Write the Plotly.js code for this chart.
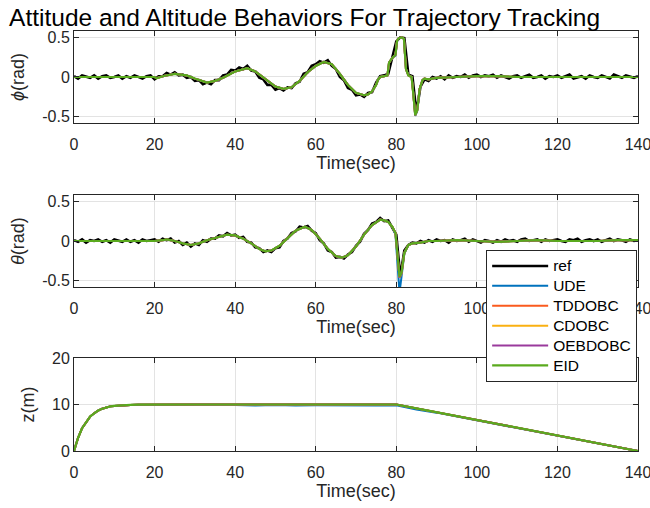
<!DOCTYPE html>
<html>
<head>
<meta charset="utf-8">
<script src="https://cdn.plot.ly/plotly-3.0.1.min.js"></script>
<style>html,body{margin:0;padding:0;background:#fff;}#chart{width:650px;height:508px;}</style>
</head>
<body>
<div id="chart"></div>
<script>
// ---------- data ----------
const seriesNames = ['ref', 'UDE', 'TDDOBC', 'CDOBC', 'OEBDOBC', 'EID'];
const seriesColors = ['#000000', '#0072BD', '#FA5A1E', '#FAB012', '#9A3A9C', '#5AAA1E'];

// reference signal, sampled every second (0..140 s)
const tRef = [0,1,2,3,4,5,6,7,8,9,10,11,12,13,14,15,16,17,18,19,20,21,22,23,24,25,26,27,28,29,30,31,32,33,34,35,36,37,38,39,40,41,42,43,44,45,46,47,48,49,50,51,52,53,54,55,56,57,58,59,60,61,62,63,64,65,66,67,68,69,70,71,72,73,74,75,76,77,78,79,80,81,82,83,84,85,86,87,88,89,90,91,92,93,94,95,96,97,98,99,100,101,102,103,104,105,106,107,108,109,110,111,112,113,114,115,116,117,118,119,120,121,122,123,124,125,126,127,128,129,130,131,132,133,134,135,136,137,138,139,140];
const phiRef = [0.01,-0.02,0.02,0.0,-0.01,0.02,-0.02,0.01,0.02,-0.01,0.0,0.02,-0.02,0.01,-0.01,0.02,0.0,-0.02,0.01,0.02,
  -0.03,0.01,0.01,0.05,0.03,0.06,0.02,0.03,-0.01,0.0,-0.05,-0.04,-0.09,-0.07,-0.09,-0.04,-0.04,0.02,0.03,0.09,
  0.08,0.12,0.1,0.14,0.08,0.07,-0.01,-0.03,-0.1,-0.1,-0.16,-0.14,-0.17,-0.13,-0.14,-0.08,-0.06,0.04,0.06,0.14,
  0.16,0.2,0.18,0.21,0.14,0.1,0.0,-0.04,-0.14,-0.16,-0.23,-0.22,-0.25,-0.2,-0.19,-0.07,0.01,0.02,0.04,0.26,
  0.45,0.5,0.49,0.03,0.01,-0.45,-0.12,-0.03,-0.05,0.0,-0.02,0.01,-0.03,0.02,-0.01,0.01,0.0,0.03,-0.01,0.02,
  0.03,0.0,0.02,0.01,0.03,-0.01,0.02,0.0,-0.02,0.01,0.02,-0.01,0.01,0.03,-0.01,0.0,0.02,-0.02,0.01,0.0,
  0.02,-0.01,0.01,0.03,-0.02,0.0,0.01,-0.02,0.02,0.0,-0.01,0.02,0.0,-0.02,0.03,0.01,-0.01,0.02,0.0,-0.01,0.01];
const thetaRef = [0.01,-0.01,0.02,-0.02,0.01,0.0,0.02,-0.01,0.01,-0.02,0.02,0.0,-0.01,0.02,-0.01,0.01,-0.02,0.02,0.0,0.01,
  0.02,-0.01,0.03,0.01,0.03,-0.02,0.0,-0.05,-0.02,-0.07,-0.03,-0.05,0.01,-0.01,0.03,0.03,0.07,0.06,0.1,0.07,
  0.08,0.04,0.05,-0.01,-0.02,-0.08,-0.09,-0.14,-0.12,-0.14,-0.09,-0.08,0.0,0.03,0.1,0.12,0.18,0.17,0.19,0.13,
  0.1,0.01,-0.03,-0.12,-0.14,-0.21,-0.2,-0.22,-0.17,-0.14,-0.06,-0.01,0.09,0.14,0.22,0.24,0.29,0.25,0.26,0.17,
  0.08,-0.45,-0.12,-0.05,-0.02,-0.03,0.0,-0.02,0.01,-0.01,0.02,0.0,0.01,-0.02,0.02,0.0,0.01,0.03,-0.01,0.02,
  0.0,-0.02,0.01,0.0,-0.02,0.01,-0.01,0.02,0.0,0.01,-0.01,0.02,0.03,0.0,0.01,0.02,-0.01,0.02,0.0,0.01,
  0.02,0.0,-0.01,0.02,0.01,0.03,-0.01,0.01,0.02,0.0,0.02,-0.01,0.01,0.03,0.0,0.02,0.01,-0.01,0.02,0.0,0.01];

// roll angle of the controllers
const tPhi = [0,5,10,15,20,20.5,22,25,28,30,33,35,37,40,43,45,47,50,52,54,56,58,60,62,64,66,68,70,72,73,74,75,75.5,76,77,77.8,78.2,79,79.8,80.2,80.6,81.5,81.9,82.4,83,83.8,84.2,84.7,85.2,85.8,86.5,87,88,90,95,100,105,110,115,120,125,130,135,140];
const phiEID = [0,0,0,0,0,-0.015,0.01,0.04,0.02,-0.02,-0.07,-0.05,-0.01,0.07,0.11,0.07,-0.01,-0.12,-0.15,-0.13,-0.05,0.06,0.14,0.19,0.16,0.04,-0.1,-0.2,-0.23,-0.22,-0.18,-0.1,-0.03,0.0,0.01,0.02,0.18,0.24,0.28,0.46,0.49,0.5,0.48,0.1,0.02,0.0,-0.2,-0.48,-0.42,-0.15,-0.04,-0.02,-0.03,-0.01,0.0,0.01,0.01,0.0,0.0,0.0,0.0,0.0,0.0,0.0];
const phiUDE = [0,0,0,0,0,-0.015,0.01,0.04,0.02,-0.02,-0.07,-0.05,-0.01,0.07,0.11,0.07,-0.01,-0.12,-0.15,-0.13,-0.05,0.06,0.14,0.19,0.16,0.04,-0.1,-0.2,-0.23,-0.22,-0.18,-0.1,-0.03,0.0,0.01,0.02,0.18,0.24,0.27,0.45,0.49,0.5,0.48,0.1,0.02,0.0,-0.2,-0.49,-0.43,-0.15,-0.04,-0.02,-0.03,-0.01,0.0,0.01,0.01,0.0,0.0,0.0,0.0,0.0,0.0,0.0];
const phiOther = [0,0,0,0,0,-0.015,0.01,0.04,0.02,-0.02,-0.07,-0.05,-0.01,0.07,0.11,0.07,-0.01,-0.12,-0.15,-0.13,-0.05,0.06,0.14,0.19,0.16,0.04,-0.1,-0.2,-0.23,-0.22,-0.18,-0.1,-0.03,0.0,0.01,0.02,0.18,0.24,0.28,0.46,0.49,0.5,0.48,0.1,0.02,0.0,-0.2,-0.48,-0.42,-0.15,-0.04,-0.02,-0.03,-0.01,0.0,0.01,0.01,0.0,0.0,0.0,0.0,0.0,0.0,0.0];

// pitch angle of the controllers
const tTheta = [0,5,10,15,20,22,23,25,27,29,31,33,35,38,40,42,44,46,47.5,49,51,53,55,57.3,59,61,63,65,66.5,68,70,72,74,76,77,78,79,79.8,80.4,80.8,81.3,82,83,84,86,88,90,95,100,105,110,115,120,125,130,135,140];
const thetaEID = [0,0,0,0,0,0.01,0.02,0.0,-0.03,-0.05,-0.03,0.01,0.04,0.08,0.07,0.03,-0.03,-0.1,-0.13,-0.12,-0.06,0.04,0.13,0.18,0.14,0.03,-0.1,-0.19,-0.21,-0.18,-0.07,0.08,0.2,0.27,0.26,0.24,0.18,0.1,-0.2,-0.45,-0.4,-0.15,-0.05,-0.03,-0.02,0.0,0.0,0.01,0.0,-0.01,0.0,0.01,0.0,0.0,0.0,0.01,0.01];
const thetaUDE = [0,0,0,0,0,0.01,0.02,0.0,-0.03,-0.05,-0.03,0.01,0.04,0.08,0.07,0.03,-0.03,-0.1,-0.13,-0.12,-0.06,0.04,0.13,0.18,0.14,0.03,-0.1,-0.19,-0.21,-0.18,-0.07,0.08,0.2,0.27,0.26,0.24,0.18,0.08,-0.3,-0.65,-0.45,-0.16,-0.05,-0.03,-0.02,0.0,0.0,0.01,0.0,-0.01,0.0,0.01,0.0,0.0,0.0,0.01,0.01];
const thetaOther = [0,0,0,0,0,0.01,0.02,0.0,-0.03,-0.05,-0.03,0.01,0.04,0.08,0.07,0.03,-0.03,-0.1,-0.13,-0.12,-0.06,0.04,0.13,0.18,0.14,0.03,-0.1,-0.19,-0.21,-0.18,-0.07,0.08,0.2,0.27,0.26,0.24,0.18,0.1,-0.2,-0.46,-0.41,-0.15,-0.05,-0.03,-0.02,0.0,0.0,0.01,0.0,-0.01,0.0,0.01,0.0,0.0,0.0,0.01,0.01];

// altitude
const tZ = [0,1,2,3,4,5,6,7,8,9,10,12,14,16,20,30,40,45,50,55,60,65,70,75,80,85,90,100,110,120,130,140];
const zRef = [0,2.8,4.9,6.3,7.4,8.1,8.7,9.1,9.4,9.6,9.7,9.85,9.92,9.96,10,10,10,10,10,10,10,10,10,10,10,9.17,8.33,6.67,5,3.33,1.67,0];
const zEID = [0,2.8,4.9,6.3,7.4,8.1,8.7,9.1,9.4,9.6,9.7,9.85,9.92,9.96,10,10,10,10,10,10,10,10,10,10,10,9.17,8.33,6.67,5,3.33,1.67,0];
const zUDE = [0,2.8,4.9,6.3,7.4,8.1,8.7,9.1,9.4,9.6,9.7,9.85,9.92,9.96,9.98,9.95,9.9,9.8,9.88,9.78,9.85,9.8,9.86,9.78,9.85,8.95,8.25,6.62,4.97,3.31,1.66,0];
const zOther = [0,2.8,4.9,6.3,7.4,8.1,8.7,9.1,9.4,9.6,9.7,9.85,9.92,9.96,10,10,10,10,10,10,10,10,10,10,10,9.17,8.33,6.67,5,3.33,1.67,0];

const xTicks = [0,20,40,60,80,100,120,140];
const angleTicks = [-0.5,0,0.5];
const angleTickText = ['-0.5','0','0.5'];
const zTicks = [0,10,20];
const zTickText = ['0','10','20'];

// ---------- traces ----------
const FONT = 'Liberation Sans, Arial, Helvetica, sans-serif';
const traces = [];
function add(x, y, i, xa, ya, showlegend, w) {
  traces.push({x: x, y: y, type: 'scatter', mode: 'lines',
    name: '<span style="font-size:15.5px">' + seriesNames[i] + '</span>',
    line: {color: seriesColors[i], width: w}, xaxis: xa, yaxis: ya,
    showlegend: showlegend, legendgroup: seriesNames[i], hoverinfo: 'skip'});
}
// top panel
add(tRef, phiRef, 0, 'x', 'y', true, 2.6);
add(tPhi, phiUDE, 1, 'x', 'y', true, 2);
add(tPhi, phiOther, 2, 'x', 'y', true, 2);
add(tPhi, phiOther, 3, 'x', 'y', true, 2);
add(tPhi, phiOther, 4, 'x', 'y', true, 2);
add(tPhi, phiEID, 5, 'x', 'y', true, 2.2);
// middle panel
add(tRef, thetaRef, 0, 'x2', 'y2', false, 2.6);
add(tTheta, thetaUDE, 1, 'x2', 'y2', false, 2);
add(tTheta, thetaOther, 2, 'x2', 'y2', false, 2);
add(tTheta, thetaOther, 3, 'x2', 'y2', false, 2);
add(tTheta, thetaOther, 4, 'x2', 'y2', false, 2);
add(tTheta, thetaEID, 5, 'x2', 'y2', false, 2.2);
// bottom panel
add(tZ, zRef, 0, 'x3', 'y3', false, 2);
add(tZ, zUDE, 1, 'x3', 'y3', false, 2);
add(tZ, zOther, 2, 'x3', 'y3', false, 2);
add(tZ, zOther, 3, 'x3', 'y3', false, 2);
add(tZ, zOther, 4, 'x3', 'y3', false, 2);
add(tZ, zEID, 5, 'x3', 'y3', false, 2.2);

// ---------- layout ----------
const AX = '#262626';
function xaxis(anchor) {
  return {anchor: anchor, domain: [0, 1], range: [0, 140], tickvals: xTicks,
    ticks: 'inside', ticklen: 5, tickcolor: AX, showline: true, linecolor: AX, linewidth: 1,
    mirror: 'ticks', showgrid: true, gridcolor: '#e3e3e3', zeroline: false,
    ticklabeloverflow: 'allow', ticklabelstandoff: 7,
    tickfont: {family: FONT, size: 16, color: AX},
    title: {text: 'Time(sec)', font: {family: FONT, size: 18, color: AX}, standoff: 4}};
}
function yaxis(anchor, dom, range, tv, tt, title) {
  return {anchor: anchor, domain: dom, range: range, tickvals: tv, ticktext: tt,
    ticks: 'inside', ticklen: 5, tickcolor: AX, showline: true, linecolor: AX, linewidth: 1,
    mirror: 'ticks', showgrid: true, gridcolor: '#e3e3e3', zeroline: false,
    ticklabeloverflow: 'allow',
    tickfont: {family: FONT, size: 16, color: AX},
    title: {text: title, font: {family: FONT, size: 18, color: AX}, standoff: 12}};
}
const layout = {
  width: 650, height: 508,
  margin: {l: 74, r: 12, t: 31, b: 57},
  paper_bgcolor: '#ffffff', plot_bgcolor: '#ffffff',
  font: {family: FONT, color: AX},
  title: {text: 'Attitude and Altitude Behaviors For Trajectory Tracking',
    font: {family: FONT, size: 24.5, color: '#000000'},
    xref: 'container', x: 0.014, xanchor: 'left', yref: 'container', y: 0.965, yanchor: 'middle'},
  xaxis: xaxis('y'),
  yaxis: yaxis('x', [0.781, 1], [-0.58, 0.58], angleTicks, angleTickText, '<i>ϕ</i>(rad)'),
  xaxis2: xaxis('y2'),
  yaxis2: yaxis('x2', [0.3905, 0.6095], [-0.58, 0.58], angleTicks, angleTickText, '<i>θ</i>(rad)'),
  xaxis3: xaxis('y3'),
  yaxis3: yaxis('x3', [0, 0.2214], [0, 20], zTicks, zTickText, 'z(m)'),
  legend: {x: 0.9985, xanchor: 'right', y: 0.4786, yanchor: 'top', xref: 'paper', yref: 'paper',
    bgcolor: '#ffffff', bordercolor: AX, borderwidth: 1,
    font: {family: FONT, size: 13, color: '#000000'}, itemwidth: 56, tracegroupgap: 0},
  showlegend: true
};

Plotly.newPlot('chart', traces, layout, {staticPlot: true, displayModeBar: false});
</script>
</body>
</html>
